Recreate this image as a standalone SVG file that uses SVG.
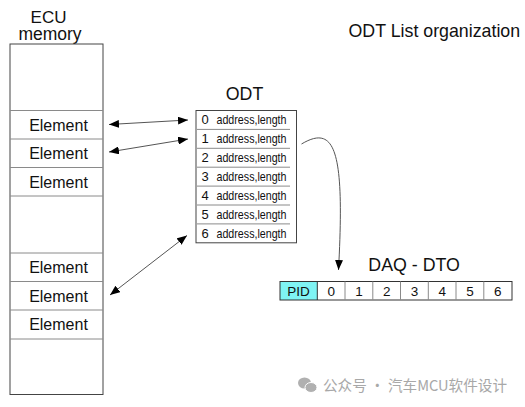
<svg xmlns="http://www.w3.org/2000/svg" width="525" height="407" viewBox="0 0 525 407">
<defs>
<style>
text{font-family:"Liberation Sans",Arial,sans-serif;fill:#111}
.t18{font-size:17.8px}
.el{font-size:16px;text-anchor:middle}
.odt{font-size:13px}
.cell{font-size:13.5px;text-anchor:middle}
.sep{stroke:#8a8a8a;stroke-width:1}
.frame{fill:#fff;stroke:#444;stroke-width:1}
.conn{fill:none;stroke:#555;stroke-width:1}
.wm{font-family:"Noto Sans CJK SC","Liberation Sans",sans-serif;font-size:15px;fill:#a8a8a8}
</style>
<marker id="ah" viewBox="0 0 10 8" refX="10" refY="4" markerWidth="10" markerHeight="8" markerUnits="userSpaceOnUse" orient="auto-start-reverse">
<path d="M0,0 L10,4 L0,8 z" fill="#000"/>
</marker>
</defs>
<rect width="525" height="407" fill="#fff"/>

<text class="t18" x="348.5" y="37">ODT List organization</text>

<g id="ecu-memory">
<text x="48.5" y="23" text-anchor="middle" style="font-size:17px">ECU</text>
<text x="50" y="40" text-anchor="middle" style="font-size:17.5px">memory</text>
<rect class="frame" x="10" y="44" width="93" height="350.5"/>
<line class="sep" x1="10" y1="110.5" x2="103" y2="110.5"/>
<line class="sep" x1="10" y1="139" x2="103" y2="139"/>
<line class="sep" x1="10" y1="167.5" x2="103" y2="167.5"/>
<line class="sep" x1="10" y1="196" x2="103" y2="196"/>
<line class="sep" x1="10" y1="253" x2="103" y2="253"/>
<line class="sep" x1="10" y1="281.5" x2="103" y2="281.5"/>
<line class="sep" x1="10" y1="310" x2="103" y2="310"/>
<line class="sep" x1="10" y1="339" x2="103" y2="339"/>
<text class="el" x="58.5" y="130.5">Element</text>
<text class="el" x="58.5" y="159">Element</text>
<text class="el" x="58.5" y="187.5">Element</text>
<text class="el" x="58.5" y="273">Element</text>
<text class="el" x="58.5" y="301.5">Element</text>
<text class="el" x="58.5" y="330">Element</text>
</g>

<g id="odt">
<text class="t18" x="244.5" y="100" text-anchor="middle">ODT</text>
<rect class="frame" x="196" y="110.5" width="100.5" height="132.3"/>
<line class="sep" x1="197" y1="129.4" x2="290" y2="129.4"/>
<line class="sep" x1="197" y1="148.3" x2="290" y2="148.3"/>
<line class="sep" x1="197" y1="167.2" x2="290" y2="167.2"/>
<line class="sep" x1="197" y1="186.1" x2="290" y2="186.1"/>
<line class="sep" x1="197" y1="205" x2="290" y2="205"/>
<line class="sep" x1="197" y1="223.9" x2="290" y2="223.9"/>
<g class="odt">
<text x="201.5" y="124.3">0</text><text x="216.5" y="124.3" textLength="70" lengthAdjust="spacingAndGlyphs">address,length</text>
<text x="201.5" y="143.2">1</text><text x="216.5" y="143.2" textLength="70" lengthAdjust="spacingAndGlyphs">address,length</text>
<text x="201.5" y="162.1">2</text><text x="216.5" y="162.1" textLength="70" lengthAdjust="spacingAndGlyphs">address,length</text>
<text x="201.5" y="181">3</text><text x="216.5" y="181" textLength="70" lengthAdjust="spacingAndGlyphs">address,length</text>
<text x="201.5" y="199.9">4</text><text x="216.5" y="199.9" textLength="70" lengthAdjust="spacingAndGlyphs">address,length</text>
<text x="201.5" y="218.8">5</text><text x="216.5" y="218.8" textLength="70" lengthAdjust="spacingAndGlyphs">address,length</text>
<text x="201.5" y="237.7">6</text><text x="216.5" y="237.7" textLength="70" lengthAdjust="spacingAndGlyphs">address,length</text>
</g>
</g>

<g id="daq-dto">
<text class="t18" x="368.3" y="271">DAQ - DTO</text>
<rect x="280" y="281.5" width="37.3" height="18.5" fill="#7ff4f4"/>
<rect x="280" y="281.5" width="232" height="18.5" fill="none" stroke="#333" stroke-width="1"/>
<line class="sep" x1="317.3" y1="281.5" x2="317.3" y2="300" style="stroke:#333"/>
<line class="sep" x1="345" y1="281.5" x2="345" y2="300"/>
<line class="sep" x1="372.8" y1="281.5" x2="372.8" y2="300"/>
<line class="sep" x1="400.5" y1="281.5" x2="400.5" y2="300"/>
<line class="sep" x1="428.3" y1="281.5" x2="428.3" y2="300"/>
<line class="sep" x1="456" y1="281.5" x2="456" y2="300"/>
<line class="sep" x1="483.8" y1="281.5" x2="483.8" y2="300"/>
<text class="cell" x="298.6" y="296">PID</text>
<text class="cell" x="331.2" y="296">0</text>
<text class="cell" x="358.9" y="296">1</text>
<text class="cell" x="386.7" y="296">2</text>
<text class="cell" x="414.4" y="296">3</text>
<text class="cell" x="442.2" y="296">4</text>
<text class="cell" x="469.9" y="296">5</text>
<text class="cell" x="497.7" y="296">6</text>
</g>

<g id="connectors">
<line class="conn" x1="109" y1="124.5" x2="188" y2="120" marker-start="url(#ah)" marker-end="url(#ah)"/>
<line class="conn" x1="109" y1="152" x2="188" y2="139" marker-start="url(#ah)" marker-end="url(#ah)"/>
<line class="conn" x1="110" y1="295" x2="187" y2="235.5" marker-start="url(#ah)" marker-end="url(#ah)"/>
<path class="conn" d="M301.5,144 C335,124 345,150 338.5,270" marker-end="url(#ah)"/>
</g>

<g id="watermark">
<ellipse cx="304.5" cy="383" rx="6.5" ry="5.5" fill="#b0b0b0"/>
<ellipse cx="311" cy="387.5" rx="6" ry="5" fill="#b0b0b0" stroke="#fff" stroke-width="1"/>
<text class="wm" x="323" y="391" textLength="184" lengthAdjust="spacingAndGlyphs">公众号 · 汽车MCU软件设计</text>
</g>
</svg>
